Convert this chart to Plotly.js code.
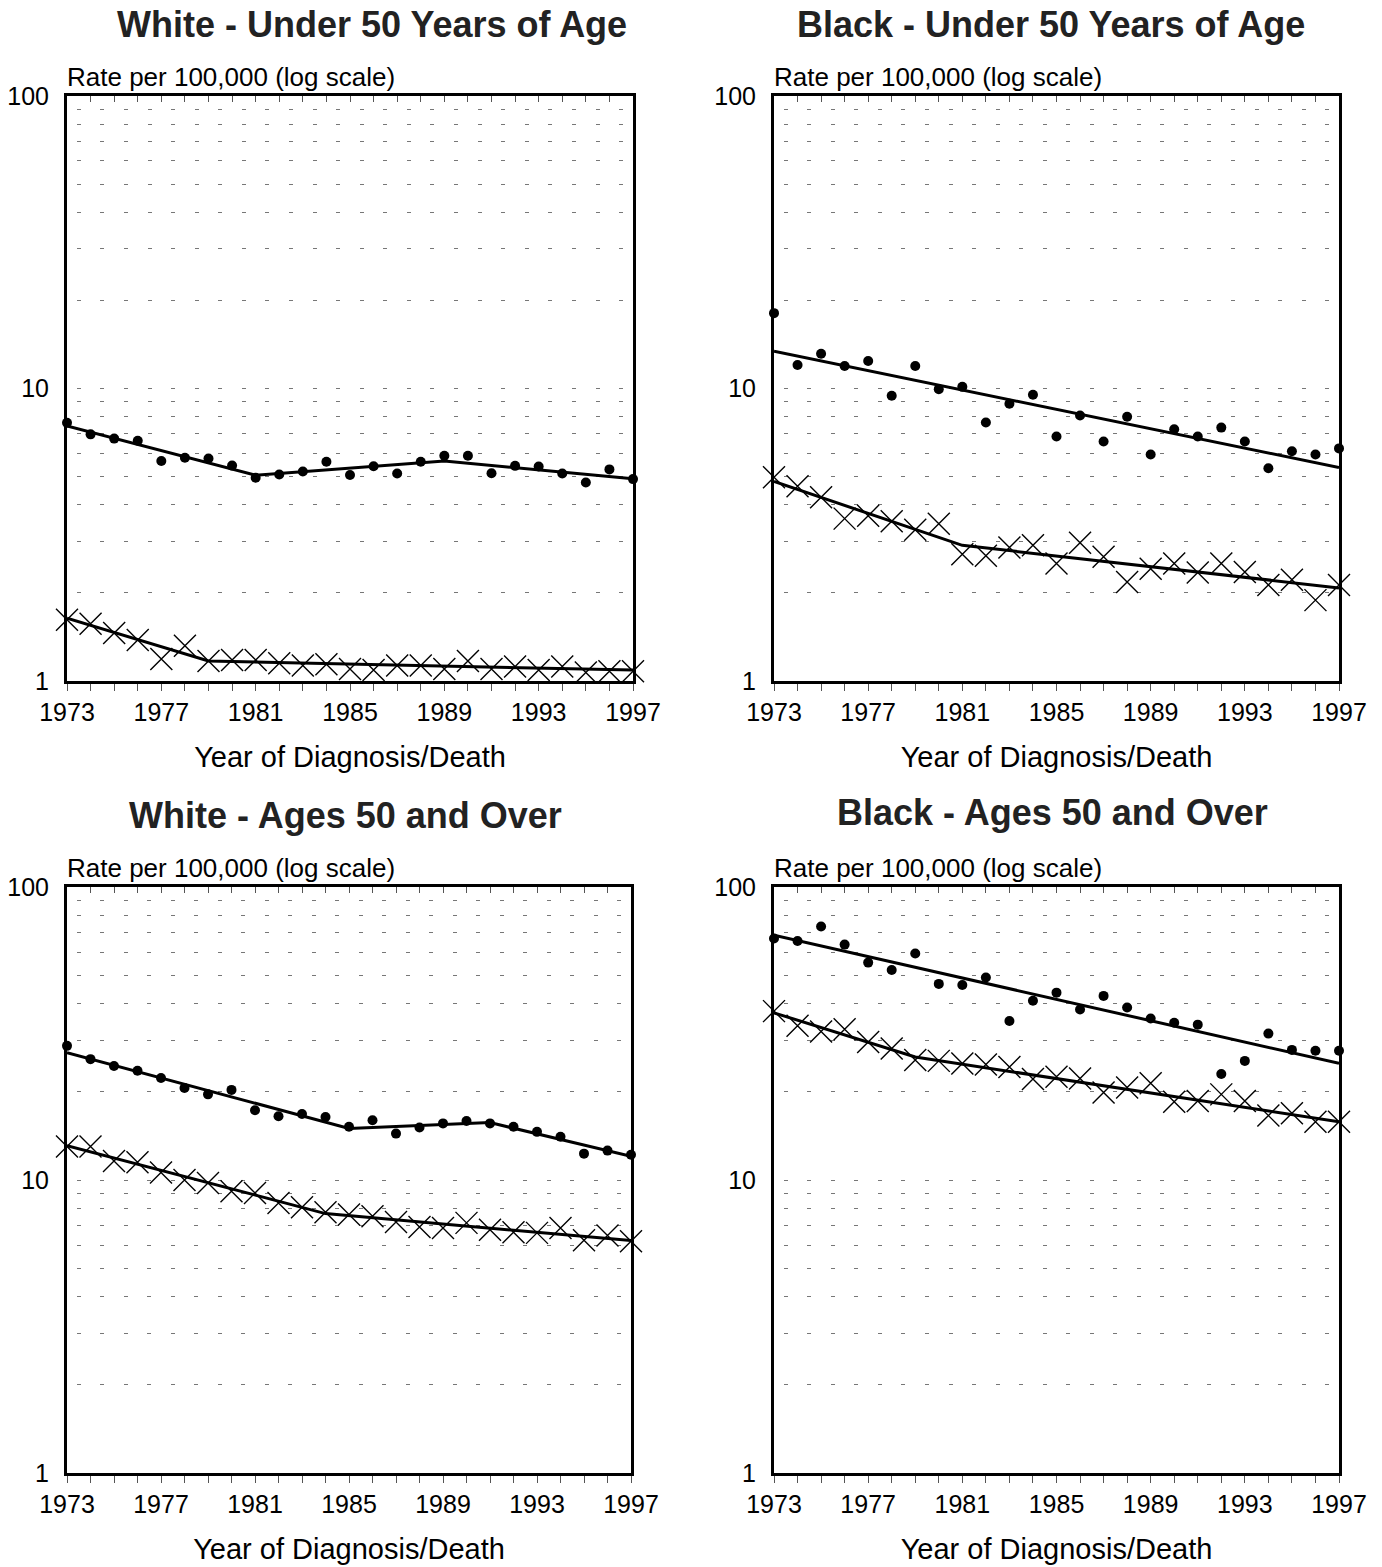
<!DOCTYPE html>
<html>
<head>
<meta charset="utf-8">
<script src="https://cdn.plot.ly/plotly-3.0.1.min.js"></script>
<style>html,body{margin:0;padding:0;background:#fff;}#chart{width:1382px;height:1567px;}</style>
</head>
<body>
<div id="chart"></div>
<script>
// ---- data ----
const years = [1973,1974,1975,1976,1977,1978,1979,1980,1981,1982,1983,1984,1985,1986,1987,1988,1989,1990,1991,1992,1993,1994,1995,1996,1997];
const labeledYears = [1973,1977,1981,1985,1989,1993,1997];

const panelTitles = ["White - Under 50 Years of Age","Black - Under 50 Years of Age","White - Ages 50 and Over","Black - Ages 50 and Over"];

// White under 50
const wU50Incidence = [7.64,6.97,6.74,6.63,5.65,5.80,5.76,5.45,4.95,5.08,5.20,5.62,5.06,5.42,5.12,5.62,5.89,5.89,5.13,5.44,5.41,5.12,4.77,5.29,4.90];
const wU50IncTrendYears = [1973,1981,1989,1997];
const wU50IncTrend = [7.44,5.05,5.65,4.91];
const wU50Mortality = [1.62,1.57,1.46,1.38,1.19,1.32,1.17,1.18,1.18,1.15,1.13,1.14,1.10,1.09,1.13,1.13,1.10,1.17,1.10,1.12,1.09,1.12,1.07,1.08,1.08];
const wU50MortTrendYears = [1973,1979,1997];
const wU50MortTrend = [1.64,1.17,1.09];

// Black under 50
const bU50Incidence = [18.1,12.03,13.15,11.94,12.41,9.44,11.94,9.95,10.13,7.65,8.87,9.52,6.85,8.08,6.59,8.01,5.95,7.26,6.85,7.35,6.59,5.34,6.10,5.95,6.24];
const bU50IncTrendYears = [1973,1997];
const bU50IncTrend = [13.4,5.37];
const bU50Mortality = [4.97,4.63,4.25,3.59,3.67,3.52,3.29,3.45,2.71,2.68,2.86,2.91,2.52,2.97,2.66,2.18,2.42,2.52,2.35,2.52,2.36,2.13,2.22,1.89,2.13];
const bU50MortTrendYears = [1973,1981,1997];
const bU50MortTrend = [4.81,2.91,2.08];

// White 50 and over
const w50Incidence = [28.7,25.85,24.5,23.6,22.3,20.6,19.6,20.3,17.3,16.5,16.8,16.4,15.2,16.0,14.4,15.1,15.6,15.9,15.6,15.2,14.6,14.05,12.3,12.6,12.2];
const w50IncTrendYears = [1973,1985,1991,1997];
const w50IncTrend = [27.2,15.0,15.7,12.04];
const w50Mortality = [13.0,13.0,11.6,11.5,10.6,10.0,9.77,9.15,9.03,8.35,8.07,7.76,7.62,7.52,7.19,6.91,6.86,7.14,6.77,6.63,6.60,6.86,6.23,6.46,6.18];
const w50MortTrendYears = [1973,1984,1997];
const w50MortTrend = [13.1,7.68,6.21];

// Black 50 and over
const b50Incidence = [66.7,65.4,73.3,63.6,55.2,52.1,59.3,46.7,46.3,49.1,34.9,40.9,43.6,38.2,42.5,38.8,35.6,34.4,33.9,23.0,25.5,31.6,27.8,27.6,27.6];
const b50IncTrendYears = [1973,1997];
const b50IncTrend = [68.4,25.0];
const b50Mortality = [37.7,33.6,32.1,32.7,29.6,28.1,25.7,25.5,25.0,24.8,24.3,22.1,22.5,22.2,19.9,20.7,21.4,18.5,18.6,19.6,18.6,16.6,16.9,15.8,15.8];
const b50MortTrendYears = [1973,1979,1997];
const b50MortTrend = [37.2,26.3,15.8];

const yMajor = [1,10,100];
const yMinor = [2,3,4,5,6,7,8,9,20,30,40,50,60,70,80,90];

// ---- build ----
const FONT = '"Liberation Sans", Arial, Helvetica, sans-serif';
const panels = [
  {inc:wU50Incidence, incTY:wU50IncTrendYears, incT:wU50IncTrend, mort:wU50Mortality, mortTY:wU50MortTrendYears, mortT:wU50MortTrend},
  {inc:bU50Incidence, incTY:bU50IncTrendYears, incT:bU50IncTrend, mort:bU50Mortality, mortTY:bU50MortTrendYears, mortT:bU50MortTrend},
  {inc:w50Incidence, incTY:w50IncTrendYears, incT:w50IncTrend, mort:w50Mortality, mortTY:w50MortTrendYears, mortT:w50MortTrend},
  {inc:b50Incidence, incTY:b50IncTrendYears, incT:b50IncTrend, mort:b50Mortality, mortTY:b50MortTrendYears, mortT:b50MortTrend}
];
const W = 1382, H = 1567;
const boxes = [
  {x0:67, x1:633, y0:96, y1:681, tx:372, ty:25},
  {x0:774, x1:1339, y0:96, y1:681, tx:1051, ty:25},
  {x0:67, x1:631, y0:887, y1:1473, tx:345, ty:815},
  {x0:774, x1:1339, y0:887, y1:1473, tx:1052, ty:813}
];

const traces = [];
const layout = {
  width: W, height: H, margin:{l:0,r:0,t:0,b:0},
  paper_bgcolor:'#fff', plot_bgcolor:'#fff', showlegend:false,
  font:{family:FONT, color:'#000'},
  annotations: []
};
const tickText = years.map(y => labeledYears.includes(y) ? String(y) : '');

panels.forEach((p, i) => {
  const n = i + 1;
  const xa = 'x' + n, ya = 'y' + n;
  const xt = 'x' + (n + 4);
  const b = boxes[i];
  const xdom = [b.x0 / W, b.x1 / W];
  const ydom = [1 - b.y1 / H, 1 - b.y0 / H];
  const half = ((b.x1 - b.x0) / 24 - 4) / 2;
  const dash = '0px,' + half.toFixed(2) + 'px,4px,' + half.toFixed(2) + 'px';
  layout['xaxis' + n] = {
    domain: xdom, anchor: ya, range: [1973, 1997],
    tickmode: 'array', tickvals: years, ticktext: tickText,
    ticks: 'outside', ticklen: 7, tickwidth: 1, tickcolor: '#555',
    tickfont: {size: 25, family: FONT}, showgrid: false, zeroline: false,
    showline: true, linecolor: '#000', linewidth: 3, mirror: true,
    title: {text: 'Year of Diagnosis/Death', font: {size: 29, family: FONT}, standoff: 22}
  };
  layout['xaxis' + (n + 4)] = {
    domain: xdom, anchor: ya, overlaying: xa, side: 'top', range: [1973, 1997],
    tickmode: 'array', tickvals: years, showticklabels: false,
    ticks: 'inside', ticklen: 6, tickwidth: 1, tickcolor: '#555',
    showgrid: false, zeroline: false, showline: false
  };
  layout['yaxis' + n] = {
    domain: ydom, anchor: xa, type: 'log', range: [0, 2],
    tickmode: 'array', tickvals: yMajor, ticktext: yMajor.map(String),
    ticks: '', ticklabelstandoff: 10,
    tickfont: {size: 25, family: FONT},
    showgrid: true, gridcolor: '#777', gridwidth: 1, griddash: dash,
    minor: {tickmode: 'array', tickvals: yMinor, showgrid: true, gridcolor: '#777', gridwidth: 1, griddash: dash, ticks: ''},
    zeroline: false, showline: true, linecolor: '#000', linewidth: 3, mirror: true
  };
  // trend lines
  traces.push({type:'scatter', mode:'lines', x:p.incTY, y:p.incT, xaxis:xa, yaxis:ya, line:{color:'#000', width:3}, cliponaxis:false, hoverinfo:'skip'});
  traces.push({type:'scatter', mode:'lines', x:p.mortTY, y:p.mortT, xaxis:xa, yaxis:ya, line:{color:'#000', width:3}, cliponaxis:false, hoverinfo:'skip'});
  // observed
  traces.push({type:'scatter', mode:'markers', x:years, y:p.inc, xaxis:xa, yaxis:ya, marker:{symbol:'circle', size:10, color:'#000'}, cliponaxis:false});
  traces.push({type:'scatter', mode:'markers', x:years, y:p.mort, xaxis:xa, yaxis:ya, marker:{symbol:'x-thin-open', size:22, color:'#000', line:{color:'#000', width:1.4}}, cliponaxis:false});
  // dummy trace for top tick axis
  traces.push({type:'scatter', mode:'markers', x:[1985], y:[10], xaxis:xt, yaxis:ya, marker:{opacity:0}, hoverinfo:'skip'});
  // panel title
  layout.annotations.push({xref:'paper', yref:'paper', x:b.tx / W, y:1 - b.ty / H, xanchor:'center', yanchor:'middle',
    text:'<b>' + panelTitles[i] + '</b>', showarrow:false, font:{size:36, family:FONT, color:'#222'}});
  // y unit label
  layout.annotations.push({xref:xa + ' domain', yref:ya + ' domain', x:0, y:1, xanchor:'left', yanchor:'bottom', yshift:2, xshift:-2,
    text:'Rate per 100,000 (log scale)', showarrow:false, font:{size:26, family:FONT}});
});

Plotly.newPlot('chart', traces, layout, {staticPlot:true});
</script>
</body>
</html>
